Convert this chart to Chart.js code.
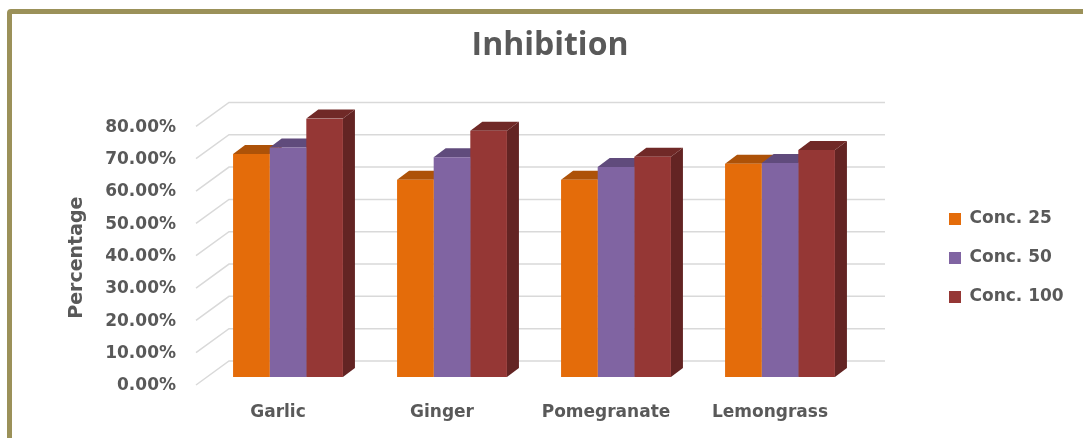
<!DOCTYPE html>
<html>
<head>
<meta charset="utf-8">
<script src="https://cdn.jsdelivr.net/npm/chart.js@4.4.1/dist/chart.umd.min.js"></script>
<style>
  html, body { margin: 0; padding: 0; background: #fff; }
  #frame { position: absolute; left: 7px; top: 9px; width: 1100px; height: 460px;
           border: 5px solid #9b9159; border-radius: 4px; }
  #wrap { position: absolute; left: 0; top: 0; width: 1083px; height: 438px; }
</style>
</head>
<body>
<div id="frame"></div>
<div id="wrap"><canvas id="myChart" width="1083" height="438"></canvas></div>
<script>
var CATEGORIES = ['Garlic', 'Ginger', 'Pomegranate', 'Lemongrass'];
var SERIES_NAMES = ['Conc. 25', 'Conc. 50', 'Conc. 100'];
var CONC_25 = [0.69, 0.61, 0.61, 0.66];
var CONC_50 = [0.71, 0.68, 0.65, 0.662];
var CONC_100 = [0.80, 0.762, 0.681, 0.702];
var Y_MAX = 0.8;
var Y_STEP = 0.1;

var TEXT = '#595959';
var DX = 12, DY = 9;   // bar depth

// back wall + side grid, bar tops and sides (fronts drawn by Chart.js on top)
const bar3d = {
  id: 'bar3d',
  beforeDatasetsDraw(chart) {
    const ctx = chart.ctx;
    const a = chart.chartArea;
    const ys = chart.scales.y;
    ctx.save();
    ctx.strokeStyle = '#d9d9d9';
    ctx.lineWidth = 1.5;
    ys.ticks.forEach(t => {
      const py = ys.getPixelForValue(t.value);
      ctx.beginPath();
      ctx.moveTo(a.left - 10, py + 8);
      ctx.lineTo(a.left + 23, py - 16);
      ctx.lineTo(a.right + 23, py - 16);
      ctx.stroke();
    });
    chart.data.datasets.forEach((ds, i) => {
      chart.getDatasetMeta(i).data.forEach(bar => {
        const p = bar.getProps(['x', 'y', 'base', 'width'], true);
        const l = p.x - p.width / 2, r = p.x + p.width / 2;
        ctx.fillStyle = ds.sideColor;
        ctx.beginPath();
        ctx.moveTo(r, p.y);
        ctx.lineTo(r + DX, p.y - DY);
        ctx.lineTo(r + DX, p.base - DY);
        ctx.lineTo(r, p.base);
        ctx.closePath();
        ctx.fill();
        ctx.fillStyle = ds.topColor;
        ctx.beginPath();
        ctx.moveTo(l, p.y);
        ctx.lineTo(r, p.y);
        ctx.lineTo(r + DX, p.y - DY);
        ctx.lineTo(l + DX, p.y - DY);
        ctx.closePath();
        ctx.fill();
      });
    });
    ctx.restore();
  }
};

// give the legend a fixed column on the right and move its items in
const legendBox = {
  id: 'legendBox',
  beforeLayout(chart) {
    const lg = chart.legend;
    if (lg && !lg._fixed) {
      const fit = lg.fit.bind(lg);
      lg.fit = function () { fit(); this.width = 221; };
      lg._fixed = true;
    }
  },
  afterLayout(chart) {
    const lg = chart.legend;
    lg.left += 65; lg.right += 65;
    lg.top += 39; lg.bottom += 39;
  }
};

const ctx = document.getElementById('myChart');
new Chart(ctx, {
  type: 'bar',
  data: {
    labels: CATEGORIES,
    datasets: [
      { label: SERIES_NAMES[0], data: CONC_25, backgroundColor: '#e46c0a', topColor: '#ad5208', sideColor: '#9a4907' },
      { label: SERIES_NAMES[1], data: CONC_50, backgroundColor: '#8064a2', topColor: '#604b7c', sideColor: '#54416c' },
      { label: SERIES_NAMES[2], data: CONC_100, backgroundColor: '#953735', topColor: '#702927', sideColor: '#632423' }
    ]
  },
  options: {
    responsive: false,
    animation: false,
    devicePixelRatio: 1,
    categoryPercentage: 0.67,
    barPercentage: 1.0,
    layout: { padding: { left: 17, top: 0, right: 0, bottom: 0 } },
    plugins: {
      title: {
        display: true,
        text: 'Inhibition',
        color: TEXT,
        font: { family: 'Open Sans', size: 32, weight: 'bold' },
        padding: { top: 27, bottom: 53 }
      },
      legend: {
        position: 'right',
        labels: {
          boxWidth: 12,
          boxHeight: 12,
          padding: 22,
          color: TEXT,
          font: { family: 'DejaVu Sans', size: 17, weight: 'bold' }
        }
      },
      tooltip: { enabled: false }
    },
    scales: {
      x: {
        grid: { display: false, drawTicks: false },
        border: { display: false },
        ticks: {
          padding: 25,
          labelOffset: -10,
          color: TEXT,
          font: { family: 'DejaVu Sans', size: 17, weight: 'bold' }
        },
        afterFit(s) { s.height = 61; }
      },
      y: {
        min: 0,
        max: Y_MAX,
        grid: { display: false, drawTicks: false },
        border: { display: false },
        ticks: {
          stepSize: Y_STEP,
          padding: 30,
          labelOffset: 9,
          color: TEXT,
          font: { family: 'DejaVu Sans', size: 17, weight: 'bold' },
          callback: v => (v * 100).toFixed(2) + '%'
        },
        title: {
          display: true,
          text: 'Percentage   ',
          color: TEXT,
          font: { family: 'DejaVu Sans', size: 19, weight: 'bold' },
          padding: { top: 49, bottom: 0 }
        },
        afterFit(s) { s.width = 189; }
      }
    }
  },
  plugins: [bar3d, legendBox]
});
</script>
</body>
</html>
